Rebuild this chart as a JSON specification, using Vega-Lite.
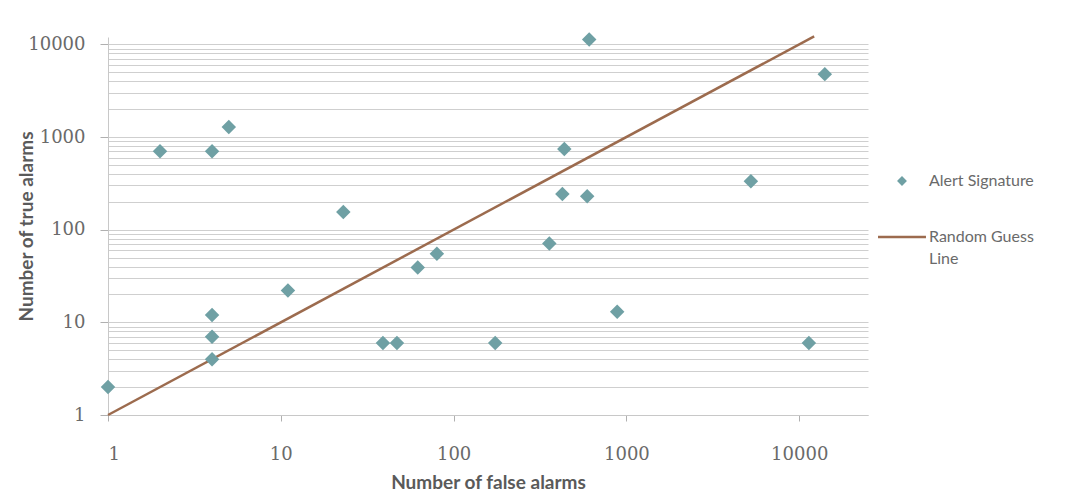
{
  "$schema": "https://vega.github.io/schema/vega-lite/v6.json",
  "width": 760,
  "height": 378,
  "autosize": "none",
  "padding": {"left": 108, "top": 37, "right": 197, "bottom": 85},
  "background": "white",
  "config": {"view": {"stroke": null}},
  "datasets": {
    "alerts": [
      {"false_alarms": 1, "true_alarms": 2, "series": "Alert Signature"},
      {"false_alarms": 2, "true_alarms": 700, "series": "Alert Signature"},
      {"false_alarms": 4, "true_alarms": 700, "series": "Alert Signature"},
      {"false_alarms": 5, "true_alarms": 1280, "series": "Alert Signature"},
      {"false_alarms": 4, "true_alarms": 12, "series": "Alert Signature"},
      {"false_alarms": 4, "true_alarms": 7, "series": "Alert Signature"},
      {"false_alarms": 4, "true_alarms": 4, "series": "Alert Signature"},
      {"false_alarms": 11, "true_alarms": 22, "series": "Alert Signature"},
      {"false_alarms": 23, "true_alarms": 155, "series": "Alert Signature"},
      {"false_alarms": 39, "true_alarms": 6, "series": "Alert Signature"},
      {"false_alarms": 47, "true_alarms": 6, "series": "Alert Signature"},
      {"false_alarms": 62, "true_alarms": 39, "series": "Alert Signature"},
      {"false_alarms": 80, "true_alarms": 55, "series": "Alert Signature"},
      {"false_alarms": 174, "true_alarms": 6, "series": "Alert Signature"},
      {"false_alarms": 358, "true_alarms": 71, "series": "Alert Signature"},
      {"false_alarms": 437, "true_alarms": 740, "series": "Alert Signature"},
      {"false_alarms": 426, "true_alarms": 242, "series": "Alert Signature"},
      {"false_alarms": 593, "true_alarms": 230, "series": "Alert Signature"},
      {"false_alarms": 609, "true_alarms": 11300, "series": "Alert Signature"},
      {"false_alarms": 884, "true_alarms": 13, "series": "Alert Signature"},
      {"false_alarms": 5250, "true_alarms": 334, "series": "Alert Signature"},
      {"false_alarms": 11370, "true_alarms": 6, "series": "Alert Signature"},
      {"false_alarms": 14060, "true_alarms": 4770, "series": "Alert Signature"}
    ],
    "guess": [
      {"false_alarms": 1, "true_alarms": 1, "series": "Random Guess Line"},
      {"false_alarms": 12200, "true_alarms": 12200, "series": "Random Guess Line"}
    ]
  },
  "encoding": {
    "x": {
      "field": "false_alarms",
      "type": "quantitative",
      "scale": {"type": "log", "domain": [1, 25000], "nice": false},
      "axis": {
        "title": "Number of false  alarms",
        "values": [1, 10, 100, 1000, 10000],
        "format": "d",
        "grid": false,
        "domainColor": "#c8c8c8",
        "tickColor": "#b0b0b0",
        "tickSize": 6,
        "labelPadding": 24,
        "labelFont": "DejaVu Serif",
        "labelFontSize": 18,
        "labelColor": "#6a6a6a",
        "titleFont": "Lato",
        "titleFontSize": 19,
        "titleFontWeight": "bold",
        "titleColor": "#5a5a5a",
        "titlePadding": 10
      }
    },
    "y": {
      "field": "true_alarms",
      "type": "quantitative",
      "scale": {"type": "log", "domain": [1, 12000], "nice": false},
      "axis": {
        "title": "Number of true alarms",
        "values": [1, 2, 3, 4, 5, 6, 7, 8, 9, 10, 20, 30, 40, 50, 60, 70, 80, 90, 100, 200, 300, 400, 500, 600, 700, 800, 900, 1000, 2000, 3000, 4000, 5000, 6000, 7000, 8000, 9000, 10000],
        "format": "d",
        "labelExpr": "indexof([1,10,100,1000,10000], datum.value) >= 0 ? datum.label : ''",
        "tickOpacity": {"condition": {"test": "indexof([1,10,100,1000,10000], datum.value) >= 0", "value": 1}, "value": 0},
        "grid": true,
        "gridColor": "#cfcfcf",
        "gridWidth": 1,
        "domainColor": "#c8c8c8",
        "tickColor": "#b0b0b0",
        "tickSize": 8,
        "labelPadding": 15,
        "labelFont": "DejaVu Serif",
        "labelFontSize": 18,
        "labelColor": "#6a6a6a",
        "titleFont": "Lato",
        "titleFontSize": 19,
        "titleFontWeight": "bold",
        "titleColor": "#5a5a5a",
        "titleX": -72
      }
    },
    "color": {
      "field": "series",
      "type": "nominal",
      "scale": {"domain": ["Alert Signature", "Random Guess Line"], "range": ["#6fa0a4", "#9c6b4e"]},
      "legend": {
        "title": null,
        "orient": "none",
        "legendX": 786,
        "legendY": 136,
        "padding": 0,
        "symbolSize": 2300,
        "symbolStrokeWidth": 2.5,
        "symbolFillColor": "#a2aaab",
        "labelOffset": 19,
        "rowPadding": 39,
        "labelFont": "Lato",
        "labelFontSize": 16,
        "labelColor": "#6a6a6a",
        "labelExpr": "datum.value === 'Random Guess Line' ? ['Random Guess', 'Line'] : datum.label",
        "encode": {
          "symbols": {
            "update": {
              "shape": {"signal": "datum.value === 'Random Guess Line' ? 'stroke' : 'diamond'"},
              "size": {"signal": "datum.value === 'Random Guess Line' ? 2300 : 40"},
              "fill": {"signal": "datum.value === 'Random Guess Line' ? 'transparent' : '#a2aaab'"},
              "stroke": {"signal": "datum.value === 'Random Guess Line' ? '#9c6b4e' : 'transparent'"},
              "strokeWidth": {"value": 2.5},
              "opacity": {"value": 1}
            }
          },
          "labels": {
            "update": {
              "lineHeight": {"value": 22}
            }
          }
        }
      }
    }
  },
  "layer": [
    {
      "data": {"name": "guess"},
      "mark": {"type": "line", "strokeWidth": 2.5}
    },
    {
      "data": {"name": "alerts"},
      "mark": {"type": "point", "shape": "diamond", "filled": true, "size": 210, "opacity": 1}
    }
  ]
}
